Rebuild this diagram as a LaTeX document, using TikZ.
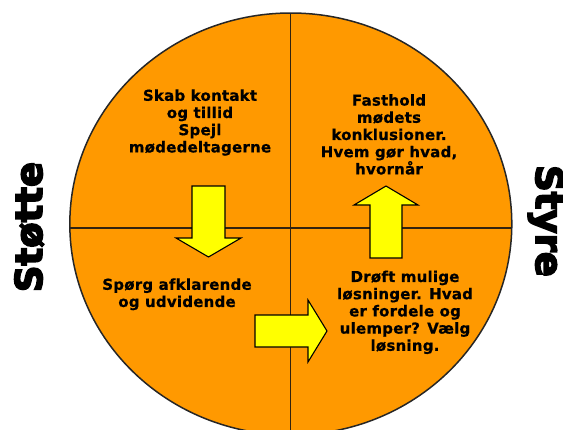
\documentclass[tikz,border=0pt]{standalone}
\usepackage{fontspec}
\newfontfamily\innerfont[LetterSpace=1.5,BoldFeatures={FakeBold=0.6}]{DejaVu Sans}
\newfontfamily\sidefont[BoldFeatures={FakeBold=4.5}]{DejaVu Sans}
\definecolor{wheel}{RGB}{255,153,0}
\definecolor{arrowyellow}{RGB}{255,255,0}
\definecolor{divider}{RGB}{50,35,15}
\tikzset{
  quadtext/.style={inner sep=0pt, align=center, text=black,
    font=\innerfont\bfseries\fontsize{15}{17.2}\selectfont},
  sidetext/.style={inner sep=0pt, text=black, anchor=base,
    font=\sidefont\bfseries\fontsize{37}{40}\selectfont},
  yarrow/.style={fill=arrowyellow, draw=black, line width=1.1pt, line join=miter},
}
\begin{document}
\begin{tikzpicture}[x=1pt,y=-1pt]
\useasboundingbox (0,0) rectangle (563,429);
% wheel
\fill[wheel] (290.8,224) ellipse [x radius=221, y radius=211];
\begin{scope}
  \clip (290.8,224) ellipse [x radius=221, y radius=211];
  \draw[divider, line width=1.4pt] (290.7,0) -- (290.7,440);
  \draw[divider, line width=1.4pt] (60,228) -- (520,228);
\end{scope}
\draw[black!85, line width=1.5pt] (290.8,224) ellipse [x radius=221, y radius=211];
% arrows
\draw[yarrow] (192,186) -- (225,186) -- (225,238) -- (241,238) -- (208.5,257)
  -- (176,238) -- (192,238) -- cycle;
\draw[yarrow] (255,315) -- (308,315) -- (308,300) -- (327,331) -- (308,362)
  -- (308,347) -- (255,347) -- cycle;
\draw[yarrow] (370,258) -- (370,205) -- (354,205) -- (386,186) -- (418,205)
  -- (402,205) -- (402,258) -- cycle;
% texts
\node[quadtext] (tl) at (200,122.5) {Skab kontakt\\og tillid\\Spejl\\mødedeltagerne};
\node[quadtext] (tr) at (389,134.4) {Fasthold\\mødets\\konklusioner.\\Hvem gør hvad,\\hvornår};
\node[quadtext] (bl) at (177,294.3) {Spørg afklarende\\og udvidende};
\node[quadtext] (br) at (405,312.3) {Drøft mulige\\løsninger. Hvad\\er fordele og\\ulemper? Vælg\\løsning.};
\node[sidetext, rotate=90] (stoette) at (42,227) {Støtte};
\node[sidetext, rotate=-90] (styre) at (536,221) {Styre};
\end{tikzpicture}
\end{document}
